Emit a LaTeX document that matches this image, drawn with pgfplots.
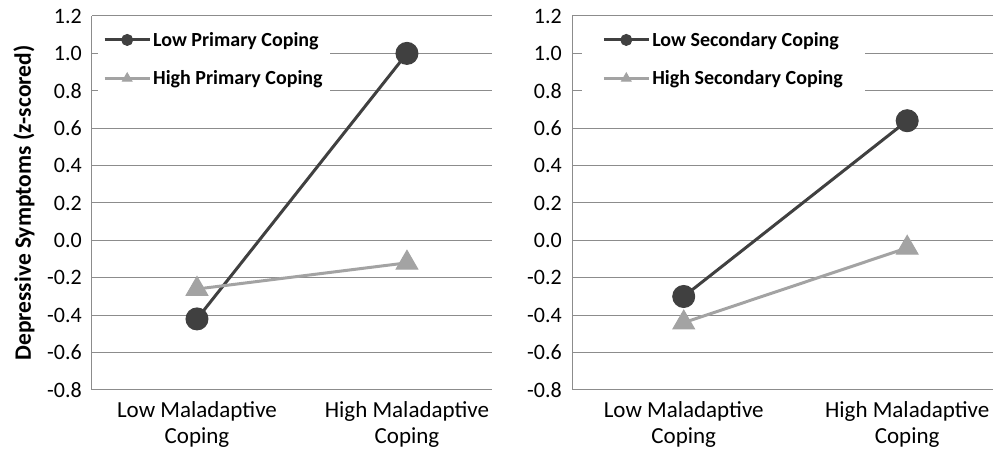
\documentclass[border=0pt]{standalone}
\usepackage{pgfplots}
\pgfplotsset{compat=1.18}
\usepackage{fontspec}
\setmainfont{Carlito}

\definecolor{darkser}{HTML}{404040}
\definecolor{lightser}{HTML}{A3A3A3}
\definecolor{gridc}{HTML}{8C8C8C}

\pgfplotstableread{
x y
0 -0.42
1 1.00
}\lowprim
\pgfplotstableread{
x y
0 -0.26
1 -0.12
}\highprim
\pgfplotstableread{
x y
0 -0.30
1 0.64
}\lowsec
\pgfplotstableread{
x y
0 -0.44
1 -0.04
}\highsec

\pgfplotsset{
  copingaxis/.style={
    scale only axis, height=374pt, anchor=south west,
    ymin=-0.8, ymax=1.2, xmin=-0.5,
    ytick={-0.8,-0.6,-0.4,-0.2,0,0.2,0.4,0.6,0.8,1.0,1.2},
    yticklabels={-0.8,-0.6,-0.4,-0.2,0.0,0.2,0.4,0.6,0.8,1.0,1.2},
    xtick={0,1},
    xticklabels={{Low Maladaptive\\Coping},{High Maladaptive\\Coping}},
    xticklabel style={align=center, font=\fontsize{23}{26}\selectfont, yshift=-8pt},
    yticklabel style={font=\fontsize{22}{26}\selectfont, inner xsep=0pt, xshift=-10pt},
    axis x line*=bottom, axis y line*=left,
    axis line style={draw=gridc, line width=1pt, -},
    ymajorgrids, major grid style={draw=gridc, line width=1pt},
    major tick length=0pt,
    clip=false,
    legend cell align=left,
    legend style={draw=none, fill=white, anchor=north west,
      font=\bfseries\fontsize{20}{24}\selectfont, row sep=19pt, inner ysep=8pt},
    legend image code/.code={
      \draw[##1,mark=none] (0pt,0pt) -- (45pt,0pt);
      \draw[##1,mark size=5.5pt] plot coordinates {(22.5pt,0pt)};
    },
  },
  lowline/.style={darkser, line width=3pt, mark=*, mark size=11pt,
    mark options={fill=darkser, draw=darkser, line width=1pt}},
  highline/.style={lightser, line width=3pt, mark=triangle*, mark size=12.5pt,
    mark options={fill=lightser, draw=lightser, line width=1pt}},
}

\begin{document}
\begin{tikzpicture}
\path[use as bounding box] (0pt,0pt) rectangle (993pt,449pt);

\begin{axis}[copingaxis, at={(92pt,59pt)}, width=400pt, xmax=1.405,
  ylabel={Depressive Symptoms (z-scored)},
  every axis y label/.style={at={(rel axis cs:-0.17,0.5)}, rotate=90, anchor=center,
    font=\bfseries\fontsize{23.5}{26}\selectfont},
  legend style={at={(0.015,0.984)}, inner xsep=5pt}]
  \addplot[lowline] table {\lowprim};
  \addplot[highline] table {\highprim};
  \legend{Low Primary Coping, High Primary Coping}
\end{axis}

\begin{axis}[copingaxis, at={(572pt,59pt)}, width=421pt, xmax=1.384,
  legend style={at={(0.024,0.984)}, inner xsep=20pt}]
  \addplot[lowline] table {\lowsec};
  \addplot[highline] table {\highsec};
  \legend{Low Secondary Coping, High Secondary Coping}
\end{axis}
\end{tikzpicture}
\end{document}
